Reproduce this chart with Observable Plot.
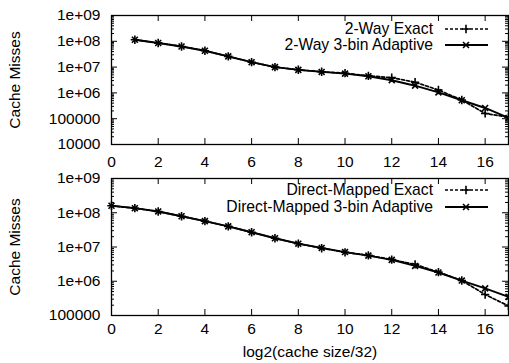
<!DOCTYPE html>
<html><head><meta charset="utf-8">
<script src="https://cdn.jsdelivr.net/npm/d3@7"></script>
<script src="https://cdn.jsdelivr.net/npm/@observablehq/plot@0.6"></script>
<style>
body{margin:0;background:#fff;}
#chart svg{display:block;}
</style>
</head><body><div id="chart"></div>
<script>
// ---- data ----
const xTwoWay = [1,2,3,4,5,6,7,8,9,10,11,12,13,14,15,16,17];
const twoWayExact    = [1.15e8,8.6e7,6.3e7,4.3e7,2.6e7,1.55e7,1.0e7,7.9e6,6.6e6,5.8e6,4.6e6,3.9e6,2.6e6,1.3e6,5.3e5,1.6e5,1.15e5];
const twoWayAdaptive = [1.15e8,8.6e7,6.3e7,4.3e7,2.6e7,1.55e7,1.0e7,7.8e6,6.5e6,5.6e6,4.4e6,3.1e6,1.9e6,1.05e6,5.2e5,2.6e5,1.07e5];
const xDirect = [0,1,2,3,4,5,6,7,8,9,10,11,12,13,14,15,16,17];
const directExact    = [1.6e8,1.36e8,1.09e8,7.9e7,5.7e7,4.0e7,2.7e7,1.8e7,1.25e7,9.2e6,7.0e6,5.7e6,4.3e6,3.1e6,1.85e6,1.05e6,4.1e5,1.9e5];
const directAdaptive = [1.6e8,1.36e8,1.09e8,7.9e7,5.7e7,4.0e7,2.7e7,1.8e7,1.25e7,9.4e6,7.1e6,5.6e6,4.2e6,2.8e6,1.8e6,1.05e6,6.2e5,3.5e5];
const xTicks = [0,2,4,6,8,10,12,14,16];
const yTicksTop = [1e4,1e5,1e6,1e7,1e8,1e9];
const yLabelsTop = ["10000","100000","1e+06","1e+07","1e+08","1e+09"];
const yTicksBottom = [1e5,1e6,1e7,1e8,1e9];
const yLabelsBottom = ["100000","1e+06","1e+07","1e+08","1e+09"];
const legendTop = ["2-Way Exact","2-Way 3-bin Adaptive"];
const legendBottom = ["Direct-Mapped Exact","Direct-Mapped 3-bin Adaptive"];
const yTitle = "Cache Misses";
const xTitle = "log2(cache size/32)";

const FONT = '"Liberation Sans", Arial, Helvetica, sans-serif';
const W = 509, ML = 111, MR = 1;

function minorTicks(lo, hi) {
  const out = [];
  for (let e = Math.log10(lo); e < Math.log10(hi); e++)
    for (let k = 2; k <= 9; k++) out.push(k * Math.pow(10, e));
  return out;
}

function panel({height, marginTop, marginBottom, yTicks, yLabels, xs, exact, adaptive, names, legendY, tickPad, showXTitle}) {
  const plotW = W - ML - MR, plotH = height - marginTop - marginBottom;
  const exactData = xs.map((x, i) => ({x, y: exact[i]}));
  const adaptData = xs.map((x, i) => ({x, y: adaptive[i]}));
  const labelMap = new Map(yTicks.map((v, i) => [v, yLabels[i]]));
  const minors = minorTicks(yTicks[0], yTicks[yTicks.length - 1]);
  const marks = [
    Plot.frame({stroke: "black", strokeWidth: 1.3}),
    Plot.tickY(yTicks, {y: d => d, insetRight: plotW - 6, stroke: "black"}),
    Plot.tickY(yTicks, {y: d => d, insetLeft: plotW - 6, stroke: "black"}),
    Plot.tickY(minors, {y: d => d, insetRight: plotW - 3, stroke: "black"}),
    Plot.tickY(minors, {y: d => d, insetLeft: plotW - 3, stroke: "black"}),
    Plot.tickX(xTicks, {x: d => d, insetTop: plotH - 6, stroke: "black"}),
    Plot.tickX(xTicks, {x: d => d, insetBottom: plotH - 6, stroke: "black"}),
    Plot.axisY(yTicks, {tickSize: 0, tickPadding: 11, tickFormat: d => labelMap.get(d), fontSize: 15.5, fill: "black", label: null}),
    Plot.axisX(xTicks, {tickSize: 0, tickPadding: tickPad, tickFormat: d => String(d), fontSize: 15.5, fill: "black", label: null}),
    Plot.text([yTitle], {frameAnchor: "left", textAnchor: "middle", lineAnchor: "middle", dx: -(ML - 15), rotate: -90, fontSize: 15.5, fill: "black"}),
    Plot.line(exactData, {x: "x", y: "y", stroke: "black", strokeWidth: 1.7, strokeDasharray: "3,2"}),
    Plot.dot(exactData, {x: "x", y: "y", symbol: "plus", r: 2.8, stroke: "black", strokeWidth: 1.6}),
    Plot.line(adaptData, {x: "x", y: "y", stroke: "black", strokeWidth: 1.9}),
    Plot.dot(adaptData, {x: "x", y: "y", symbol: "times", r: 2.8, stroke: "black", strokeWidth: 1.6})
  ];
  if (showXTitle) marks.push(Plot.text([xTitle], {frameAnchor: "bottom", textAnchor: "middle", lineAnchor: "middle", dy: 37, fontSize: 15.5, fill: "black"}));
  const svg = Plot.plot({
    width: W, height, marginLeft: ML, marginRight: MR, marginTop, marginBottom,
    style: {fontFamily: FONT, background: "white", overflow: "visible"},
    x: {domain: [0, 17]},
    y: {type: "log", domain: [yTicks[0], yTicks[yTicks.length - 1]]},
    marks
  });
  // legend (key box in the top-right corner)
  const g = d3.select(svg).append("g");
  const dashes = ["3,2", null];
  const syms = [d3.symbolPlus, d3.symbolTimes];
  names.forEach((name, i) => {
    const y = legendY[i];
    g.append("text").attr("x", 433).attr("y", y).attr("dy", "0.35em")
      .attr("text-anchor", "end").attr("font-family", FONT).attr("font-size", 15.7)
      .attr("fill", "black").text(name);
    g.append("line").attr("x1", 445).attr("x2", 488).attr("y1", y).attr("y2", y)
      .attr("stroke", "black").attr("stroke-width", i ? 1.9 : 1.7)
      .attr("stroke-dasharray", dashes[i]);
    g.append("path").attr("transform", `translate(466,${y})`)
      .attr("d", d3.symbol(syms[i], 25)()).attr("fill", "none")
      .attr("stroke", "black").attr("stroke-width", 1.6);
  });
  return svg;
}

const chart = document.getElementById("chart");
chart.append(panel({
  height: 170, marginTop: 15, marginBottom: 26,
  yTicks: yTicksTop, yLabels: yLabelsTop,
  xs: xTwoWay, exact: twoWayExact, adaptive: twoWayAdaptive,
  names: legendTop, legendY: [29, 45], tickPad: 11, showXTitle: false
}));
chart.append(panel({
  height: 193, marginTop: 8, marginBottom: 48,
  yTicks: yTicksBottom, yLabels: yLabelsBottom,
  xs: xDirect, exact: directExact, adaptive: directAdaptive,
  names: legendBottom, legendY: [20, 37], tickPad: 7, showXTitle: true
}));
</script>
</body></html>
